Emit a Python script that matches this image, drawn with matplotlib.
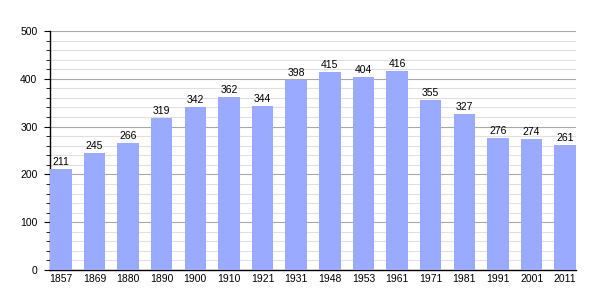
import matplotlib.pyplot as plt
from matplotlib.ticker import MultipleLocator

plt.rcParams['font.family'] = ['Liberation Sans', 'DejaVu Sans']

years = ["1857", "1869", "1880", "1890", "1900", "1910", "1921", "1931",
         "1948", "1953", "1961", "1971", "1981", "1991", "2001", "2011"]
population = [211, 245, 266, 319, 342, 362, 344, 398,
              415, 404, 416, 355, 327, 276, 274, 261]

fig = plt.figure(figsize=(6.05, 3.0), dpi=100)
ax = fig.add_axes([50 / 605, 30 / 300, 526 / 605, 239 / 300])

x = range(len(years))
ax.bar(x, population, width=0.64, color="#99aaff", zorder=3)

for i, v in enumerate(population):
    ax.text(i, v + 4, str(v), ha="center", va="bottom", fontsize=7.5, zorder=4)

ax.set_xlim(-0.32, len(years) - 1 + 0.32)
ax.set_ylim(0, 500)
ax.set_xticks(list(x))
ax.set_xticklabels(years)
ax.yaxis.set_major_locator(MultipleLocator(100))
ax.yaxis.set_minor_locator(MultipleLocator(20))
ax.grid(axis="y", which="major", color="#a8a8a8", linewidth=0.8, zorder=1)
ax.grid(axis="y", which="minor", color="#e0e0e0", linewidth=0.8, zorder=0)

for s in ["top", "right"]:
    ax.spines[s].set_visible(False)
ax.spines["left"].set_linewidth(1)
ax.spines["bottom"].set_linewidth(1)

ax.tick_params(axis="x", length=0, labelsize=7.5, pad=3)
ax.tick_params(axis="y", which="major", length=4, labelsize=7.5, pad=5)
ax.tick_params(axis="y", which="minor", length=3)

fig.savefig("out.png", dpi=100)
